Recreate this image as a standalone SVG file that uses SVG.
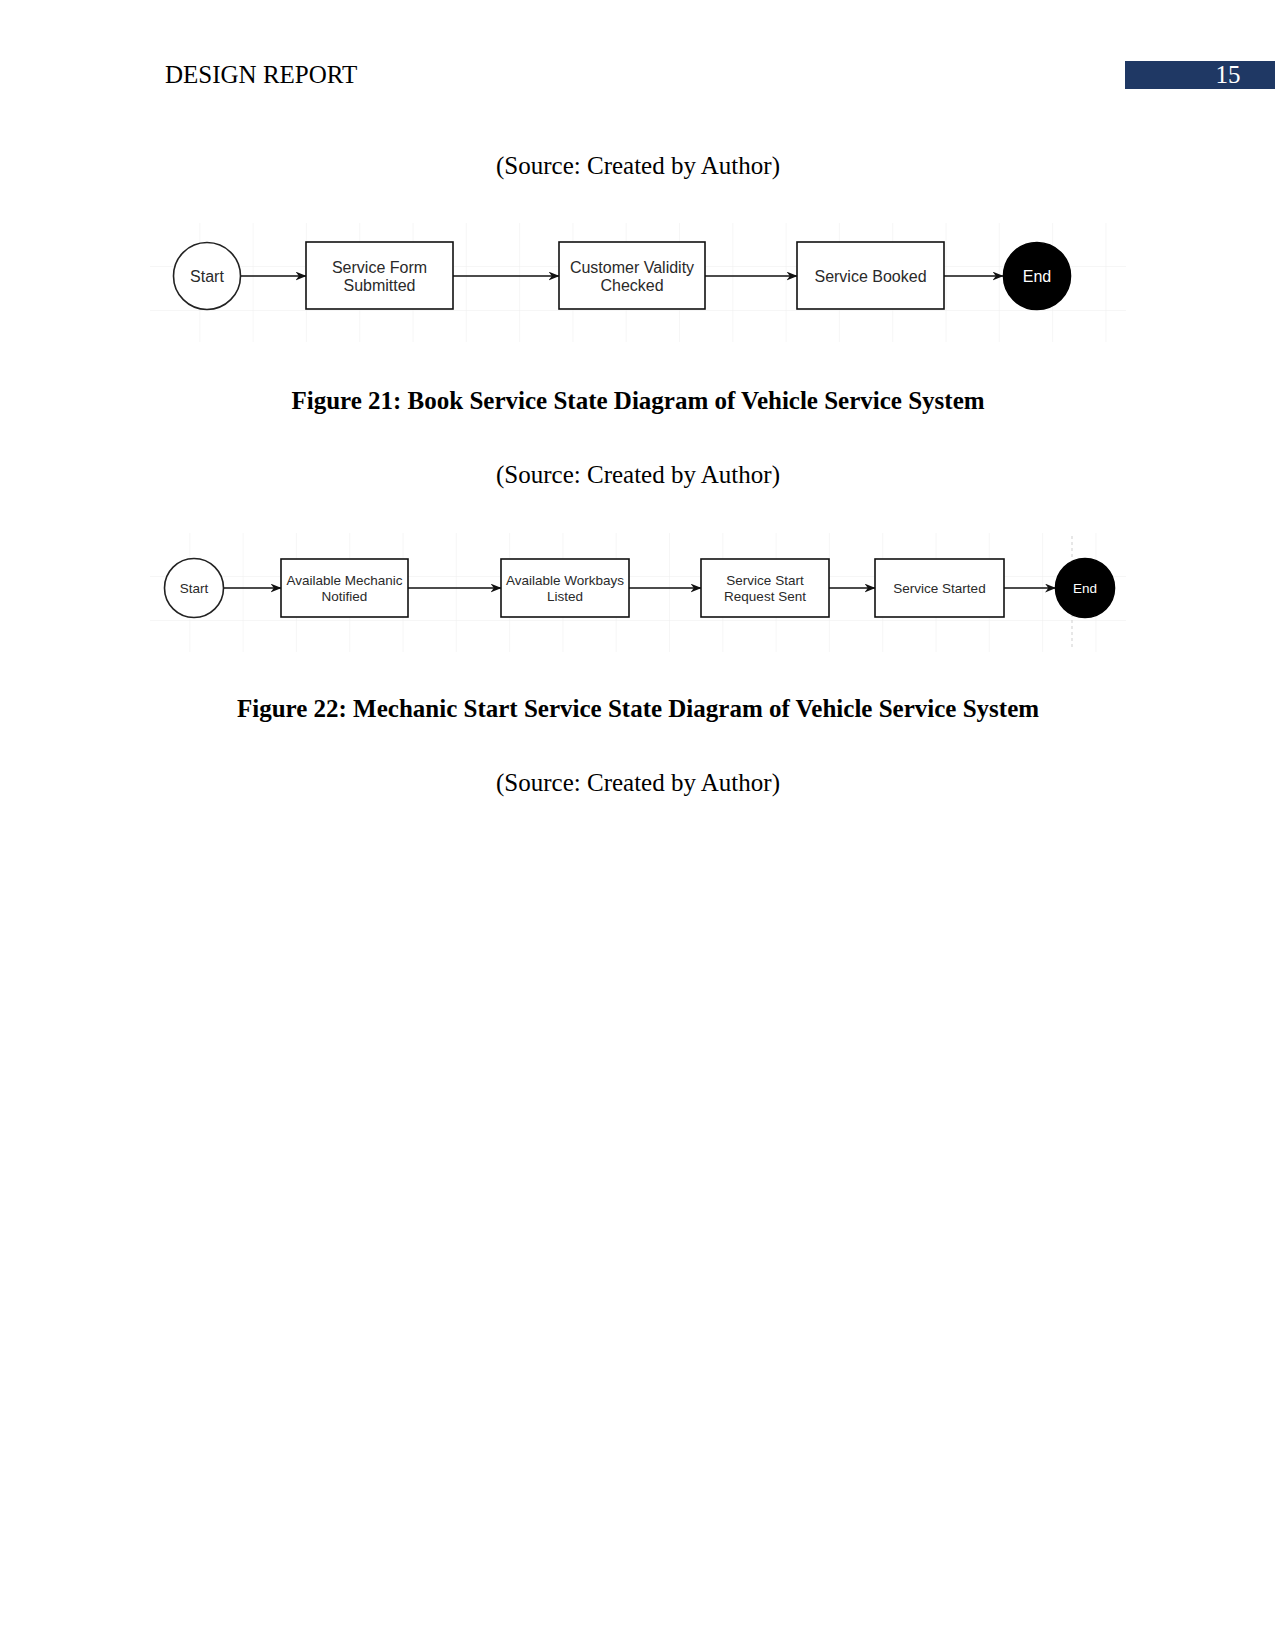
<svg xmlns="http://www.w3.org/2000/svg" width="1275" height="1650" viewBox="0 0 1275 1650">
<style>
.serif{font-family:"Liberation Serif","Times New Roman",serif;font-size:25px;fill:#000}
.bold{font-weight:bold}
.box{fill:#fff;stroke:#111;stroke-width:1.6}
.start{fill:#fff;stroke:#222;stroke-width:1.6}
.end{fill:#000;stroke:#000;stroke-width:1.6}
.t1{font-family:"Liberation Sans",Arial,sans-serif;font-size:16px;fill:#2a2a2a;text-anchor:middle}
.t2{font-family:"Liberation Sans",Arial,sans-serif;font-size:13.5px;fill:#2a2a2a;text-anchor:middle}
.w{fill:#fff}
.edge{stroke:#111;stroke-width:1.6;fill:none;marker-end:url(#arr)}
.grid{stroke:#eeeeee;stroke-width:1}
</style>
<defs>
<marker id="arr" viewBox="0 0 10 8" refX="9.5" refY="4" markerWidth="11" markerHeight="9" markerUnits="userSpaceOnUse" orient="auto">
<path d="M0,0 L10,4 L0,8 L3,4 z" fill="#111"/>
</marker>
<pattern id="g1" x="147" y="223" width="53.3" height="44" patternUnits="userSpaceOnUse">
<path d="M53.3,0 V44 M0,44 H53.3" class="grid" fill="none"/>
</pattern>
<pattern id="g2" x="137" y="533" width="53.3" height="44" patternUnits="userSpaceOnUse">
<path d="M53.3,0 V44 M0,44 H53.3" class="grid" fill="none"/>
</pattern>
</defs>
<rect width="1275" height="1650" fill="#fff"/>
<g id="header">
<text class="serif" x="165" y="83">DESIGN REPORT</text>
<rect x="1125" y="61" width="150" height="28" fill="#1f3864"/>
<text class="serif" x="1228" y="83" text-anchor="middle" style="fill:#fff">15</text>
</g>
<text class="serif" x="638" y="174" text-anchor="middle">(Source: Created by Author)</text>

<rect x="150" y="223" width="976" height="119" fill="url(#g1)"/>
<g id="connectors1">
<line class="edge" x1="241" y1="276" x2="306" y2="276"/>
<line class="edge" x1="453" y1="276" x2="559" y2="276"/>
<line class="edge" x1="705" y1="276" x2="797" y2="276"/>
<line class="edge" x1="944" y1="276" x2="1003" y2="276"/>
</g>
<g id="d1-start"><circle class="start" cx="207" cy="276" r="33.5"/><text class="t1" x="207" y="282">Start</text></g>
<g id="d1-form"><rect class="box" x="306" y="242" width="147" height="67"/><text class="t1" x="379.5" y="273">Service Form</text><text class="t1" x="379.5" y="291">Submitted</text></g>
<g id="d1-valid"><rect class="box" x="559" y="242" width="146" height="67"/><text class="t1" x="632" y="273">Customer Validity</text><text class="t1" x="632" y="291">Checked</text></g>
<g id="d1-booked"><rect class="box" x="797" y="242" width="147" height="67"/><text class="t1" x="870.5" y="282">Service Booked</text></g>
<g id="d1-end"><circle class="end" cx="1037" cy="276" r="33.5"/><text class="t1 w" x="1037" y="282">End</text></g>

<text class="serif bold" x="638" y="409" text-anchor="middle">Figure 21: Book Service State Diagram of Vehicle Service System</text>
<text class="serif" x="638" y="483" text-anchor="middle">(Source: Created by Author)</text>

<rect x="150" y="533" width="976" height="119" fill="url(#g2)"/>
<line x1="1072" y1="536" x2="1072" y2="647" stroke="#cfcfcf" stroke-width="1" stroke-dasharray="3,3"/>
<g id="connectors2">
<line class="edge" x1="223.5" y1="588" x2="281" y2="588"/>
<line class="edge" x1="408" y1="588" x2="501" y2="588"/>
<line class="edge" x1="629" y1="588" x2="701" y2="588"/>
<line class="edge" x1="829" y1="588" x2="875" y2="588"/>
<line class="edge" x1="1004" y1="588" x2="1055.5" y2="588"/>
</g>
<g id="d2-start"><circle class="start" cx="194" cy="588" r="29.5"/><text class="t2" x="194" y="593">Start</text></g>
<g id="d2-mech"><rect class="box" x="281" y="559" width="127" height="58"/><text class="t2" x="344.5" y="585">Available Mechanic</text><text class="t2" x="344.5" y="601">Notified</text></g>
<g id="d2-bays"><rect class="box" x="501" y="559" width="128" height="58"/><text class="t2" x="565" y="585">Available Workbays</text><text class="t2" x="565" y="601">Listed</text></g>
<g id="d2-req"><rect class="box" x="701" y="559" width="128" height="58"/><text class="t2" x="765" y="585">Service Start</text><text class="t2" x="765" y="601">Request Sent</text></g>
<g id="d2-started"><rect class="box" x="875" y="559" width="129" height="58"/><text class="t2" x="939.5" y="593">Service Started</text></g>
<g id="d2-end"><circle class="end" cx="1085" cy="588" r="29.5"/><text class="t2 w" x="1085" y="593">End</text></g>

<text class="serif bold" x="638" y="717" text-anchor="middle">Figure 22: Mechanic Start Service State Diagram of Vehicle Service System</text>
<text class="serif" x="638" y="791" text-anchor="middle">(Source: Created by Author)</text>
</svg>
